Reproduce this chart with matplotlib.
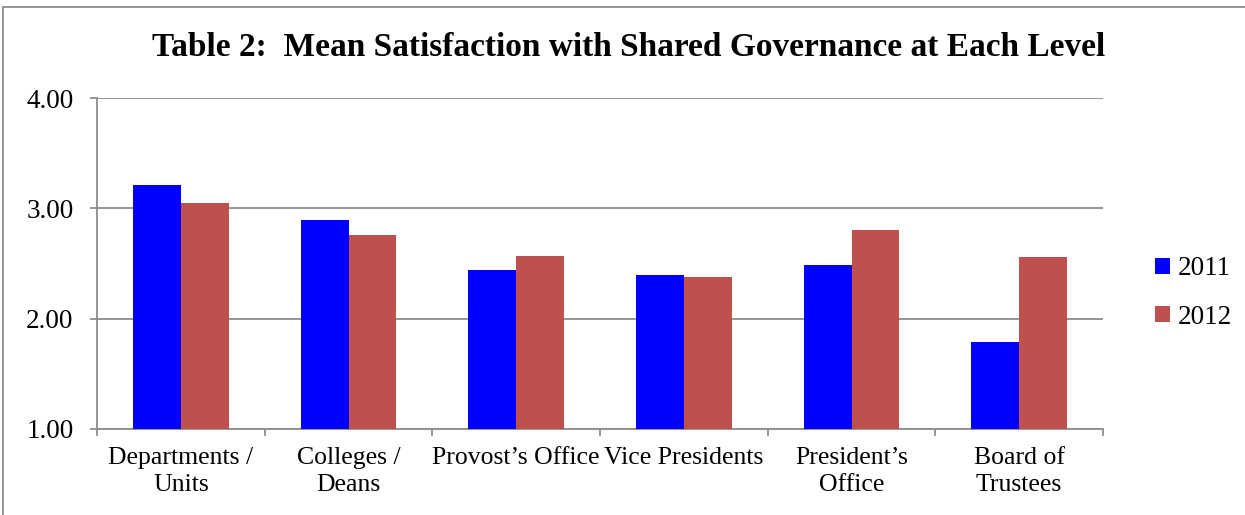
import numpy as np
import matplotlib.pyplot as plt
from matplotlib.patches import Rectangle

categories = ['Departments /\nUnits', 'Colleges /\nDeans', 'Provost\u2019s Office',
              'Vice Presidents', 'President\u2019s\nOffice', 'Board of\nTrustees']
vals_2011 = [3.21, 2.89, 2.44, 2.40, 2.49, 1.79]
vals_2012 = [3.05, 2.76, 2.57, 2.38, 2.80, 2.56]
series = ['2011', '2012']
colors = ['#0000ff', '#c0504d']

plt.rcParams['font.family'] = ['Liberation Serif', 'DejaVu Serif']

fig = plt.figure(figsize=(12.45, 5.15), dpi=100)
W, H = 1245, 515
ax = fig.add_axes([97 / W, 1 - 429 / H, (1103 - 97) / W, (429 - 98) / H])

x = np.arange(len(categories))
bw = 0.286
ax.bar(x - bw / 2, vals_2011, bw, color=colors[0], label=series[0], zorder=3)
ax.bar(x + bw / 2, vals_2012, bw, color=colors[1], label=series[1], zorder=3)

ax.set_xlim(-0.5, len(categories) - 0.5)
ax.set_ylim(1, 4)
ax.set_yticks([1, 2, 3, 4])
ax.set_yticklabels(['%.2f' % v for v in [1, 2, 3, 4]], fontsize=19.5)
ax.yaxis.grid(True, color='#8c8c8c', linewidth=1.3, zorder=0)
ax.set_axisbelow(True)

ax.set_xticks(x)
ax.set_xticklabels(categories, fontsize=18.5, linespacing=1.3)
ax.tick_params(axis='x', length=0, pad=13)
ax.set_xticks(np.arange(len(categories) + 1) - 0.5, minor=True)
ax.tick_params(axis='x', which='minor', length=5, color='#8c8c8c', width=1.3)
ax.tick_params(axis='y', length=5, color='#8c8c8c', width=1.3, pad=12)

for s in ['top', 'right']:
    ax.spines[s].set_visible(False)
for s in ['left', 'bottom']:
    ax.spines[s].set_color('#8c8c8c')
    ax.spines[s].set_linewidth(1.3)

fig.text(629 / W, 1 - 48 / H,
         'Table 2:  Mean Satisfaction with Shared Governance at Each Level',
         ha='center', va='center', fontsize=24, fontweight='bold')

fig.legend(loc='center left', bbox_to_anchor=(1136 / W, 1 - 293 / H), frameon=False,
           fontsize=19.5, handlelength=0.55, handleheight=0.55, handletextpad=0.3,
           labelspacing=0.85, borderpad=0.2)

# outer chart border
fig.patches.append(Rectangle((3 / W, -0.01), 1.1, 1 - 7 / H + 0.01, transform=fig.transFigure,
                             fill=False, edgecolor='#8c8c8c', linewidth=1.3))

fig.savefig('out.png', dpi=100)
